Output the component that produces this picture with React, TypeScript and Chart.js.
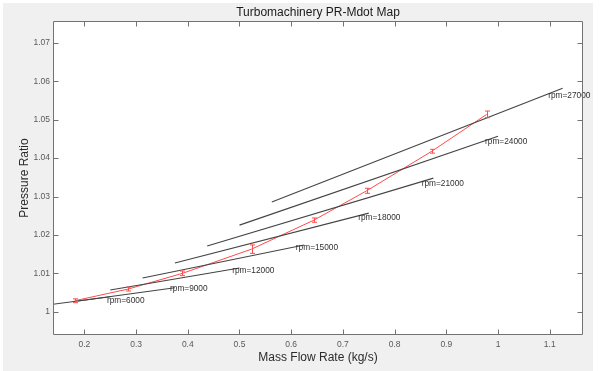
import React, { useEffect, useRef } from 'react';
import { Chart, registerables } from 'chart.js';

Chart.register(...registerables);

// ---- data ----
const rpmLabels = ['rpm=6000', 'rpm=9000', 'rpm=12000', 'rpm=15000', 'rpm=18000', 'rpm=21000', 'rpm=24000', 'rpm=27000'];
const speedMdotStart = [0.125, 0.1875, 0.25, 0.3125, 0.375, 0.4375, 0.5, 0.5625];
const speedMdotEnd = [0.25, 0.375, 0.5, 0.625, 0.75, 0.875, 1.0, 1.125];
const speedPRStart = [1.0017, 1.0028, 1.00565, 1.00877, 1.01267, 1.0171, 1.02256, 1.02855];
const speedPREnd = [1.0039, 1.00625, 1.01138, 1.01736, 1.02568, 1.0348, 1.04572, 1.0582];
const labelMdot = [0.2437, 0.3656, 0.4858, 0.609, 0.7296, 0.8525, 0.975, 1.097];
const labelPR = [1.00278, 1.0059, 1.01067, 1.01676, 1.02446, 1.03341, 1.04416, 1.05639];

const opMdot = [0.181, 0.2845, 0.3897, 0.5233, 0.644, 0.746, 0.872, 0.978];
const opPR = [1.00286, 1.0059, 1.01, 1.0163, 1.02386, 1.0315, 1.0418, 1.0514];
const opErr = [0.0005, 0.0005, 0.0006, 0.0011, 0.00056, 0.00065, 0.0005, 0.00087];

const xTicks = [0.2, 0.3, 0.4, 0.5, 0.6, 0.7, 0.8, 0.9, 1.0, 1.1];
const yTicks = [1.0, 1.01, 1.02, 1.03, 1.04, 1.05, 1.06, 1.07];
const xLimits = [0.1393, 1.1644];
const yLimits = [0.99394, 1.07572];

const titleText = 'Turbomachinery PR-Mdot Map';
const xTitle = 'Mass Flow Rate (kg/s)';
const yTitle = 'Pressure Ratio';

const FONT = 'Arial, "Liberation Sans", Helvetica, sans-serif';
const RED = 'rgb(255,75,75)';
const fmt = (v: number) => String(Number(v.toFixed(2)));

const mapPlugin = {
  id: 'mapPlugin',
  beforeDraw(chart: any) {
    const { ctx, width, height, chartArea: a } = chart;
    ctx.save();
    ctx.fillStyle = '#ffffff';
    ctx.fillRect(0, 0, width, height);
    ctx.fillStyle = '#f0f0f0';
    ctx.fillRect(3, 3, 590, height - 3);
    ctx.fillStyle = '#ffffff';
    ctx.fillRect(a.left, a.top, a.right - a.left, a.bottom - a.top);
    ctx.restore();
  },
  afterDatasetsDraw(chart: any) {
    const { ctx } = chart;
    const xs = chart.scales.x;
    const ys = chart.scales.y;
    ctx.save();
    // error bars
    ctx.strokeStyle = RED;
    ctx.lineWidth = 1;
    for (let i = 0; i < opMdot.length; i++) {
      const px = Math.round(xs.getPixelForValue(opMdot[i])) + 0.5;
      const p1 = ys.getPixelForValue(opPR[i] - opErr[i]);
      const p2 = ys.getPixelForValue(opPR[i] + opErr[i]);
      ctx.beginPath();
      ctx.moveTo(px, p1);
      ctx.lineTo(px, p2);
      ctx.moveTo(px - 2.5, p1);
      ctx.lineTo(px + 2.5, p1);
      ctx.moveTo(px - 2.5, p2);
      ctx.lineTo(px + 2.5, p2);
      ctx.stroke();
    }
    // rpm labels
    ctx.fillStyle = '#303030';
    ctx.font = `8.3px ${FONT}`;
    ctx.textAlign = 'left';
    ctx.textBaseline = 'middle';
    for (let i = 0; i < rpmLabels.length; i++) {
      ctx.fillText(rpmLabels[i], xs.getPixelForValue(labelMdot[i]), ys.getPixelForValue(labelPR[i]));
    }
    ctx.restore();
  },
  afterDraw(chart: any) {
    const { ctx, chartArea: a } = chart;
    const xs = chart.scales.x;
    const ys = chart.scales.y;
    const L = Math.round(a.left) + 0.5;
    const R = Math.round(a.right) - 0.5;
    const T = Math.round(a.top) + 0.5;
    const B = Math.round(a.bottom) - 0.5;
    ctx.save();
    ctx.strokeStyle = '#737373';
    ctx.lineWidth = 1;
    ctx.beginPath();
    ctx.rect(L, T, R - L, B - T);
    const tl = 5;
    for (const v of xTicks) {
      const px = Math.round(xs.getPixelForValue(v)) + 0.5;
      ctx.moveTo(px, B);
      ctx.lineTo(px, B - tl);
      ctx.moveTo(px, T);
      ctx.lineTo(px, T + tl);
    }
    for (const v of yTicks) {
      const py = Math.round(ys.getPixelForValue(v)) + 0.5;
      ctx.moveTo(L, py);
      ctx.lineTo(L + tl, py);
      ctx.moveTo(R, py);
      ctx.lineTo(R - tl, py);
    }
    ctx.stroke();
    // title
    ctx.fillStyle = '#1a1a1a';
    ctx.font = `12px ${FONT}`;
    ctx.textAlign = 'center';
    ctx.textBaseline = 'middle';
    ctx.fillText(titleText, (a.left + a.right) / 2, 12.5);
    ctx.restore();
  },
};

export default function App() {
  const ref = useRef<HTMLCanvasElement | null>(null);

  useEffect(() => {
    if (!ref.current) return;
    const speedSets = rpmLabels.map((lbl, i) => ({
      label: lbl,
      data: [
        { x: speedMdotStart[i], y: speedPRStart[i] },
        { x: speedMdotEnd[i], y: speedPREnd[i] },
      ],
      borderColor: '#444444',
      borderWidth: 1.1,
      pointRadius: 0,
      fill: false,
      tension: 0,
    }));
    const opSet = {
      label: 'operating line',
      data: opMdot.map((m, i) => ({ x: m, y: opPR[i] })),
      borderColor: RED,
      borderWidth: 1,
      pointRadius: 0,
      fill: false,
      tension: 0,
    };
    const chart = new Chart(ref.current, {
      type: 'line',
      data: { datasets: [...speedSets, opSet] as any },
      options: {
        animation: false,
        responsive: false,
        maintainAspectRatio: false,
        layout: { padding: { left: 0, right: 18, top: 21, bottom: 0 } },
        plugins: { legend: { display: false }, tooltip: { enabled: false }, title: { display: false } },
        elements: { line: { borderCapStyle: 'butt' } },
        scales: {
          x: {
            type: 'linear',
            position: 'bottom',
            min: xLimits[0],
            max: xLimits[1],
            grid: { display: false, drawTicks: false },
            border: { display: false },
            afterBuildTicks: (s: any) => {
              s.ticks = xTicks.map((v) => ({ value: v }));
            },
            afterFit: (s: any) => {
              s.height = 36;
            },
            ticks: {
              color: '#595959',
              font: { size: 8.5, family: FONT },
              padding: 5,
              maxRotation: 0,
              autoSkip: false,
              callback: (v: any) => fmt(Number(v)),
            },
            title: {
              display: true,
              text: xTitle,
              color: '#2b2b2b',
              font: { size: 12, family: FONT },
              padding: { top: 0, bottom: 6 },
            },
          },
          y: {
            type: 'linear',
            position: 'left',
            min: yLimits[0],
            max: yLimits[1],
            grid: { display: false, drawTicks: false },
            border: { display: false },
            afterBuildTicks: (s: any) => {
              s.ticks = yTicks.map((v) => ({ value: v }));
            },
            afterFit: (s: any) => {
              s.width = 53;
            },
            ticks: {
              color: '#595959',
              font: { size: 8.5, family: FONT },
              padding: 3,
              autoSkip: false,
              callback: (v: any) => fmt(Number(v)),
            },
            title: {
              display: true,
              text: yTitle,
              color: '#2b2b2b',
              font: { size: 12, family: FONT },
              padding: { top: 17, bottom: 0 },
            },
          },
        },
      },
      plugins: [mapPlugin],
    } as any);
    return () => chart.destroy();
  }, []);

  return (
    <div style={{ position: 'fixed', left: 0, top: 0, width: 601, height: 371, background: '#fff' }}>
      <canvas ref={ref} width={601} height={371} style={{ display: 'block', width: 601, height: 371 }} />
    </div>
  );
}
